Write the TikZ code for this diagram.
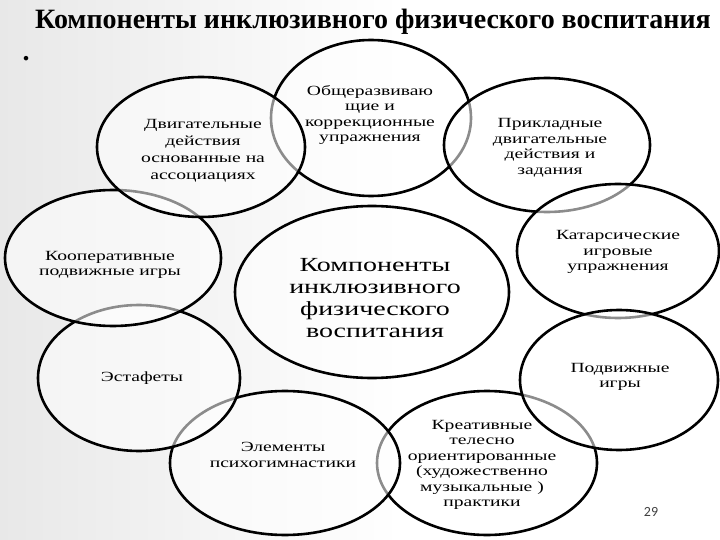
\documentclass[tikz,border=0pt]{standalone}
\usepackage{fontspec}
\setmainfont{Liberation Serif}
\newfontfamily\lblfont[FakeStretch=1.4]{Liberation Serif}
\newfontfamily\numfont{Carlito}
\usetikzlibrary{shapes.geometric}
\begin{document}
\begin{tikzpicture}[x=1pt,y=-1pt,
  blob/.style={ellipse, draw=black, line width=2.6pt, fill=white, fill opacity=0.55, inner sep=0pt},
  lbl/.style={align=center, font=\lblfont\fontsize{14}{15.5}\selectfont, inner sep=0pt, text=black},
  biglbl/.style={align=center, font=\lblfont\fontsize{20}{22}\selectfont, inner sep=0pt, text=black}
]
\useasboundingbox (0,0) rectangle (720,540);
\shade[left color=black!9, right color=white] (0,0) rectangle (400,540);
% title
\node[font=\bfseries\fontsize{28}{30}\selectfont, inner sep=0pt] (title) at (373,22) {Компоненты инклюзивного физического воспитания};
\node[font=\bfseries\fontsize{28}{30}\selectfont, inner sep=0pt] (dot) at (26,59) {.};
% ellipses (order gives overlap effect)
\node[blob, minimum width=200pt, minimum height=156pt] (e1) at (371,118) {};
\node[blob, minimum width=220pt, minimum height=144pt] (e10) at (487,463) {};
\node[blob, minimum width=206pt, minimum height=134pt] (e3) at (547,145) {};
\node[blob, minimum width=230pt, minimum height=144pt] (e9) at (285,463) {};
\node[blob, minimum width=202pt, minimum height=134pt] (e4) at (618,251) {};
\node[blob, minimum width=202pt, minimum height=146pt] (e8) at (139,378) {};
\node[blob, minimum width=198pt, minimum height=140pt] (e7) at (619,380) {};
\node[blob, minimum width=216pt, minimum height=136pt] (e5) at (113,258) {};
\node[blob, minimum width=208pt, minimum height=140pt] (e2) at (201,147) {};
\node[blob, minimum width=274pt, minimum height=172pt] (e6) at (372,292) {};
% labels
\node[lbl] (t1) at (370,115) {Общеразвиваю\\щие и\\коррекционные\\упражнения};
\node[lbl, font=\lblfont\fontsize{14}{17}\selectfont] (t2) at (203,151) {Двигательные\\действия\\основанные на\\ассоциациях};
\node[lbl] (t3) at (550,148) {Прикладные\\двигательные\\действия и\\задания};
\node[lbl] (t4) at (618,252) {Катарсические\\игровые\\упражнения};
\node[lbl] (t5) at (110,265) {Кооперативные\\подвижные игры};
\node[biglbl] (t6) at (375,298) {Компоненты\\инклюзивного\\физического\\воспитания};
\node[lbl] (t7) at (620,377) {Подвижные\\игры};
\node[lbl] (t8) at (142,378) {Эстафеты};
\node[lbl] (t9) at (283,455) {Элементы\\психогимнастики};
\node[lbl] (t10) at (482,465) {Креативные\\телесно\\ориентированные\\(художественно\\музыкальные )\\практики};
\node[font=\numfont\fontsize{14}{16}\selectfont, text=black!75, inner sep=0pt] (num) at (651,512) {29};
\end{tikzpicture}
\end{document}
